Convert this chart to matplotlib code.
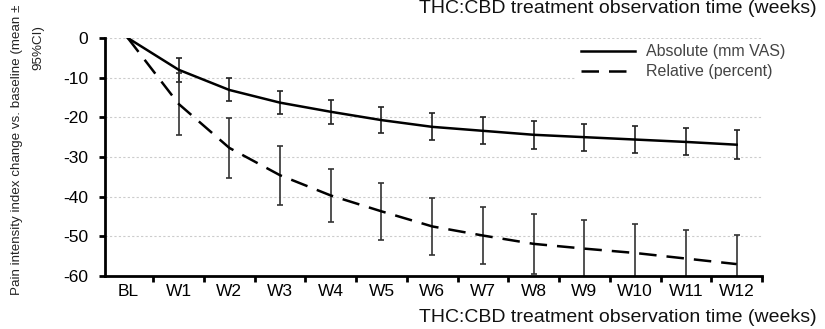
import matplotlib
matplotlib.use("Agg")
import matplotlib.pyplot as plt
import numpy as np

categories = ["BL", "W1", "W2", "W3", "W4", "W5", "W6", "W7", "W8", "W9", "W10", "W11", "W12"]
absolute_mean = [0, -8.0, -13.1, -16.3, -18.6, -20.7, -22.4, -23.4, -24.4, -25.0, -25.6, -26.2, -26.9]
absolute_ci = [0, 3.0, 2.9, 2.9, 3.0, 3.2, 3.4, 3.4, 3.5, 3.4, 3.4, 3.4, 3.6]
relative_mean = [0, -16.6, -27.7, -34.6, -39.7, -43.7, -47.5, -49.8, -51.9, -53.1, -54.2, -55.6, -57.0]
relative_ci = [0, 7.9, 7.5, 7.4, 6.8, 7.2, 7.2, 7.3, 7.6, 7.2, 7.2, 7.3, 7.3]
y_ticks = [0, -10, -20, -30, -40, -50, -60]

plt.rcParams['font.family'] = ['Liberation Sans', 'DejaVu Sans']

W, H = 825, 329
fig = plt.figure(figsize=(W / 100, H / 100), dpi=100)
ax = fig.add_axes([105 / W, 1 - 276 / H, (762 - 105) / W, (276 - 38) / H])

x = np.arange(len(categories))

for v in y_ticks:
    ax.axhline(v, color='#cccccc', lw=0.8, ls=(0, (2, 2)), zorder=0)

ax.errorbar(x[1:], absolute_mean[1:], yerr=absolute_ci[1:], fmt='none',
            ecolor='#222222', elinewidth=1.2, capsize=2.5, capthick=1.2, zorder=2)
ax.errorbar(x[1:], relative_mean[1:], yerr=relative_ci[1:], fmt='none',
            ecolor='#333333', elinewidth=1.2, capsize=2.5, capthick=1.2, zorder=2)

ax.plot(x, absolute_mean, color='black', lw=1.8, label='Absolute (mm VAS)', zorder=3)
ax.plot(x, relative_mean, color='black', lw=1.8, dashes=(7, 4), label='Relative (percent)', zorder=3)

ax.set_xlim(-0.45, 12.5)
ax.set_ylim(-60, 0)
ax.set_yticks(y_ticks)
ax.set_yticklabels([str(v) for v in y_ticks], fontsize=12.5)
ax.set_xticks(x)
ax.set_xticklabels(categories, fontsize=12.5)
ax.set_xticks(np.arange(0.5, 13, 1.0), minor=True)
ax.tick_params(axis='x', which='major', length=0, pad=6)
ax.tick_params(axis='x', which='minor', length=4, width=2, direction='out')
ax.tick_params(axis='y', length=4, width=2, direction='out', pad=8)

for s in ['top', 'right']:
    ax.spines[s].set_visible(False)
for s in ['left', 'bottom']:
    ax.spines[s].set_linewidth(2)

leg = ax.legend(loc='upper left', bbox_to_anchor=((567 - 105) / (762 - 105), 1.03), frameon=True,
                fontsize=11.5, handlelength=3.4, handletextpad=0.7, labelspacing=0.3, borderpad=0.35)
leg.get_frame().set_edgecolor('none')
leg.get_frame().set_facecolor('white')
leg.get_frame().set_alpha(1)
for t in leg.get_texts():
    t.set_color('#444444')

fig.text(17 / W, 1 - 150 / H, "Pain intensity index change vs. baseline (mean \u00b1",
         rotation=90, ha='center', va='center', fontsize=9.6, color='#222222')
fig.text(38 / W, 1 - 48 / H, "95%CI)",
         rotation=90, ha='center', va='center', fontsize=9.6, color='#222222')

fig.text(817 / W, 1 - 317 / H, "THC:CBD treatment observation time (weeks)", ha='right', va='center',
         fontsize=14, color='#111111')
fig.text(817 / W, 1.0, "THC:CBD treatment observation time (weeks)", ha='right', va='top',
         fontsize=14, color='#111111')

fig.savefig("out.png", dpi=100)
